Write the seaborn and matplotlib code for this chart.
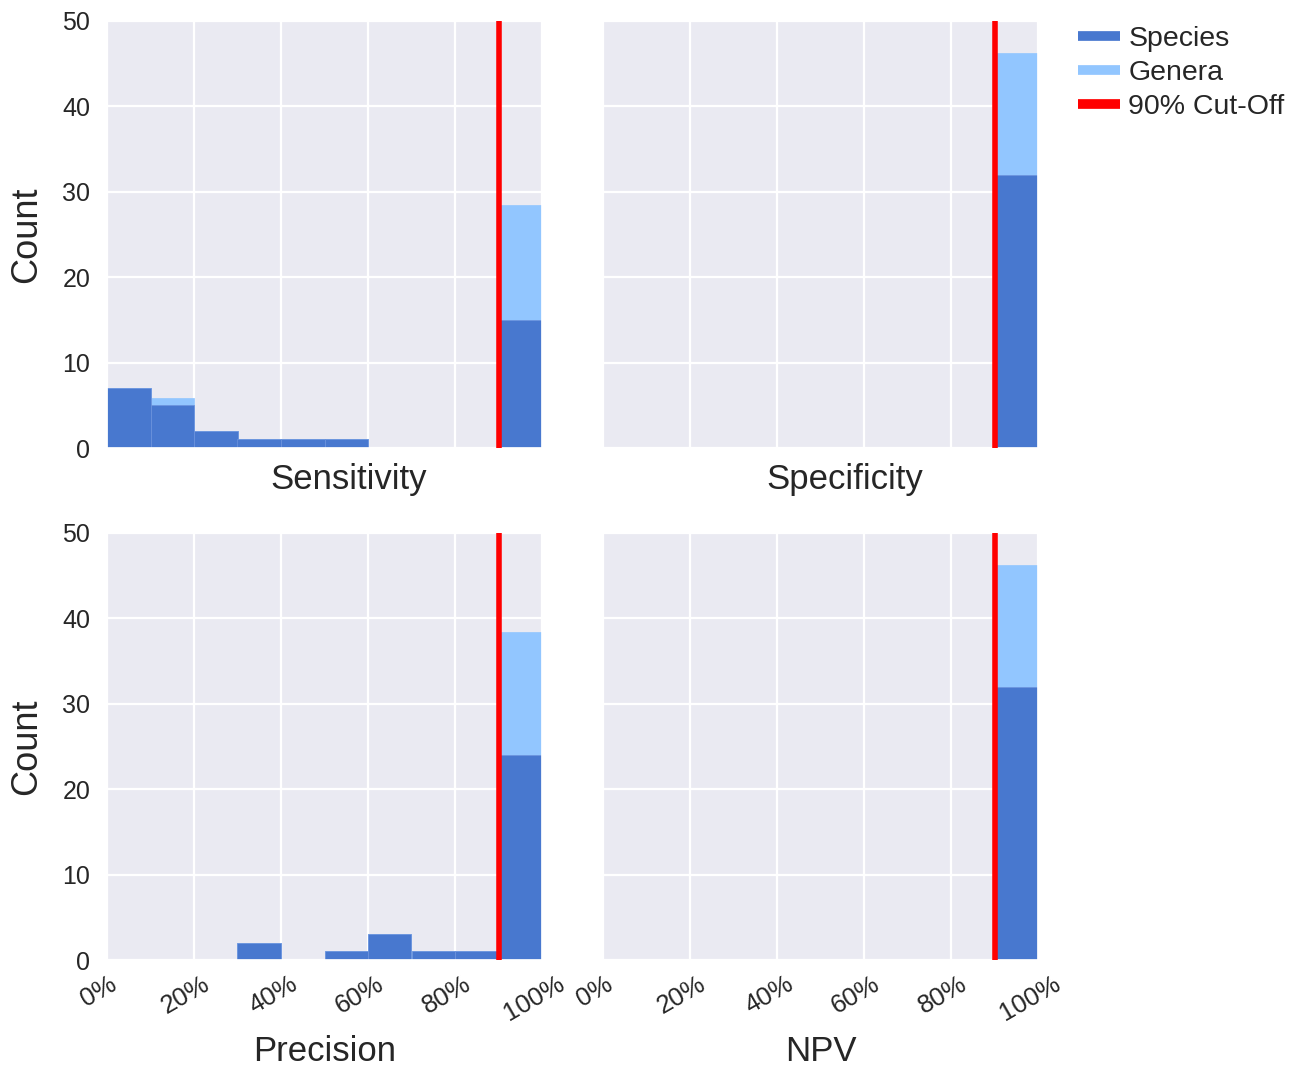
import numpy as np
import pandas as pd
import matplotlib
matplotlib.use("Agg")
import matplotlib.pyplot as plt
import seaborn as sns
from matplotlib.lines import Line2D
from matplotlib.transforms import ScaledTranslation

# ---- data ----
bin_edges = [0.0, 0.1, 0.2, 0.3, 0.4, 0.5, 0.6, 0.7, 0.8, 0.9, 1.0]
metrics = ["Sensitivity", "Specificity", "Precision", "NPV"]
sens_species = [7, 5, 2, 1, 1, 1, 0, 0, 0, 15]
sens_genera = [7, 5.9, 2, 1, 1, 1, 0, 0, 0, 28.4]
spec_species = [0, 0, 0, 0, 0, 0, 0, 0, 0, 32]
spec_genera = [0, 0, 0, 0, 0, 0, 0, 0, 0, 46.3]
prec_species = [0, 0, 0, 2, 0, 1, 3, 1, 1, 24]
prec_genera = [0, 0, 0, 2, 0, 1, 3, 1, 1, 38.4]
npv_species = [0, 0, 0, 0, 0, 0, 0, 0, 0, 32]
npv_genera = [0, 0, 0, 0, 0, 0, 0, 0, 0, 46.3]
cutoff = 0.9
tick_vals = [0, 0.2, 0.4, 0.6, 0.8, 1.0]
tick_labels = ["0%", "20%", "40%", "60%", "80%", "100%"]
y_ticks = [0, 10, 20, 30, 40, 50]

species_data = [sens_species, spec_species, prec_species, npv_species]
genera_data = [sens_genera, spec_genera, prec_genera, npv_genera]

c_species = "#4878CF"
c_genera = "#92C6FF"
c_cut = "#FF0000"

sns.set_theme(style="darkgrid")
plt.rcParams["font.family"] = ["Liberation Sans", "DejaVu Sans"]

fig = plt.figure(figsize=(13.04, 10.68), dpi=100)
W, H = 1304, 1068
boxes = [(107, 21), (603, 21), (107, 533), (603, 533)]
aw, ah = 435, 427

centers = [(bin_edges[i] + bin_edges[i + 1]) / 2 for i in range(len(bin_edges) - 1)]

for k, (name, sp, ge) in enumerate(zip(metrics, species_data, genera_data)):
    x0, y0 = boxes[k]
    ax = fig.add_axes([x0 / W, 1 - (y0 + ah) / H, aw / W, ah / H])
    df_g = pd.DataFrame({"x": centers, "w": ge})
    df_s = pd.DataFrame({"x": centers, "w": sp})
    sns.histplot(data=df_g, x="x", weights="w", bins=bin_edges, ax=ax,
                 color=c_genera, alpha=1.0, edgecolor=c_genera, linewidth=0.5)
    sns.histplot(data=df_s, x="x", weights="w", bins=bin_edges, ax=ax,
                 color=c_species, alpha=1.0, edgecolor="#6d93dc", linewidth=0.5)
    ax.axvline(cutoff, color=c_cut, linewidth=4, zorder=5)
    ax.set_xlim(0, 1)
    ax.set_ylim(0, 50)
    ax.set_xticks(tick_vals)
    ax.set_yticks(y_ticks)
    ax.grid(True, color="white", linewidth=1.6)
    ax.set_axisbelow(True)
    ax.tick_params(axis="x", labelsize=18.5, colors="#262626", length=0, pad=7)
    ax.tick_params(axis="y", labelsize=18, colors="#262626", length=0, pad=12)
    if k < 2:
        ax.set_xticklabels([])
        ax.set_xlabel(name, fontsize=25, color="#262626")
        ax.xaxis.set_label_coords(0.555, -0.035)
    else:
        ax.set_xticklabels(tick_labels, rotation=30, fontsize=18.5)
        off = ScaledTranslation(-8 / 100, -2 / 100, fig.dpi_scale_trans)
        for lab in ax.get_xticklabels():
            lab.set_transform(lab.get_transform() + off)
        ax.set_xlabel(name, fontsize=25, color="#262626")
        ax.xaxis.set_label_coords(0.5, -0.175)
    if k % 2 == 0:
        ax.set_ylabel("Count", fontsize=26, color="#262626", labelpad=13)
    else:
        ax.set_ylabel("")
        ax.set_yticklabels([])
    if k == 1:
        handles = [Line2D([0], [0], color=c_species, lw=7, solid_capstyle="butt"),
                   Line2D([0], [0], color=c_genera, lw=7, solid_capstyle="butt"),
                   Line2D([0], [0], color=c_cut, lw=7, solid_capstyle="butt")]
        ax.legend(handles, ["Species", "Genera", "90% Cut-Off"],
                  loc="upper left", bbox_to_anchor=(1.065, 1.015), frameon=False,
                  fontsize=20.5, handlelength=1.5, handletextpad=0.28,
                  labelspacing=0.28, borderaxespad=0)

fig.savefig("out.png", dpi=100)
